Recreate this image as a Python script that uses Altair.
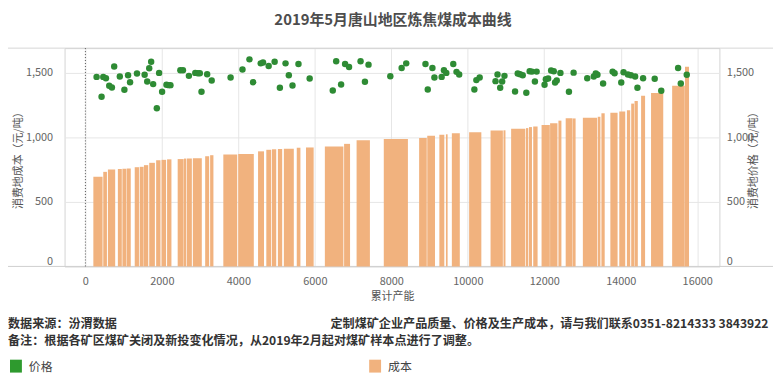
import altair as alt
import pandas as pd

# ---- data ----
cap_start = [208, 467, 589, 849, 968, 1082, 1290, 1419, 1531, 1669, 1850, 1990, 2136,
             2413, 2577, 2655, 2810, 3132, 3262, 3607, 3996, 4515, 4731, 4879, 5034,
             5190, 5527, 5769, 6262, 6765, 7092, 7803, 8727, 8940, 9256, 9428, 9583,
             10035, 10595, 10933, 11133, 11522, 11600, 11711, 11929, 12152, 12370,
             12560, 12740, 13009, 13398, 13494, 13728, 13961, 14161, 14273, 14360,
             14532, 14792, 15344, 15680]
cap_end = [449, 563, 779, 952, 1072, 1186, 1401, 1523, 1643, 1817, 1964, 2110, 2250,
           2569, 2639, 2784, 3044, 3236, 3348, 3970, 4404, 4671, 4860, 4990, 5146,
           5450, 5623, 5969, 6747, 6921, 7440, 8434, 8927, 9142, 9386, 9472, 9791,
           10354, 10917, 10985, 11504, 11582, 11678, 11825, 12145, 12344, 12448,
           12734, 12819, 13382, 13468, 13580, 13917, 14117, 14247, 14350, 14446,
           14636, 15111, 15674, 15785]
cost = [695, 733, 751, 755, 757, 759, 769, 772, 785, 803, 823, 826, 830,
        832, 836, 836, 838, 854, 862, 867, 872, 892, 904, 908, 910,
        913, 920, 922, 930, 950, 977, 987, 995, 1012, 1020, 1024, 1033,
        1040, 1054, 1055, 1067, 1072, 1080, 1085, 1097, 1110, 1130,
        1149, 1147, 1152, 1160, 1187, 1192, 1201, 1210, 1262, 1282,
        1323, 1345, 1400, 1548]

price_cap = [293, 423, 467, 537, 623, 693, 753, 900, 1020, 1116, 1168, 1349, 1549,
             1617, 1669, 1720, 1772, 1868, 1928, 2006, 2120, 2180, 2224, 2483, 2551,
             2707, 2873, 2940, 2992, 3036, 3184, 3303, 3797, 4108, 4290, 4386, 4585,
             4645, 4793, 4949, 5086, 5234, 5320, 5416, 5572, 5865, 6469, 6558, 6687,
             6791, 6895, 7196, 7310, 7404, 7974, 8270, 8390, 8893, 8953, 9075, 9127,
             9316, 9376, 9438, 9620, 9705, 9775, 10172, 10224, 10310, 10725, 10777,
             10847, 10899, 10959, 11236, 11306, 11366, 11436, 11530, 11618, 11678,
             11755, 11800, 12007, 12041, 12101, 12179, 12248, 12282, 12326, 12422,
             12645, 12767, 13123, 13294, 13346, 13390, 13538, 13787, 13839, 14013,
             14073, 14187, 14265, 14376, 14436, 14584, 14888, 15059, 15500, 15570,
             15726]
price = [1469, 1315, 1469, 1459, 1400, 1387, 1549, 1472, 1369, 1482, 1428, 1495, 1485,
         1433, 1536, 1587, 1413, 1226, 1500, 1354, 1408, 1405, 1405, 1521, 1521,
         1477, 1500, 1497, 1497, 1354, 1490, 1441, 1464, 1526, 1605, 1428, 1574,
         1580, 1554, 1587, 1385, 1574, 1482, 1403, 1569, 1456, 1364, 1590, 1410,
         1569, 1546, 1590, 1431, 1564, 1474, 1538, 1574, 1569, 1372, 1538, 1464,
         1469, 1521, 1500, 1569, 1508, 1487, 1372, 1444, 1464, 1436, 1487,
         1385, 1433, 1477, 1356, 1495, 1490, 1482, 1346, 1513, 1510,
         1433, 1510, 1408, 1451, 1456, 1518, 1513, 1425, 1441, 1500,
         1354, 1502, 1459, 1472, 1495, 1485, 1418, 1510, 1497, 1425,
         1505, 1487, 1482, 1472, 1385, 1459, 1454, 1362, 1538, 1418,
         1485]

x_ticks = [0, 2000, 4000, 6000, 8000, 10000, 12000, 14000, 16000]
y_ticks = [0, 500, 1000, 1500]

title_text = "2019年5月唐山地区炼焦煤成本曲线"
x_title = "累计产能"
y_left_title = "消费地成本（元/吨）"
y_right_title = "消费地价格（元/吨）"
source_text = "数据来源：汾渭数据"
contact_text = "定制煤矿企业产品质量、价格及生产成本，请与我们联系0351-8214333 3843922"
note_text = "备注：根据各矿区煤矿关闭及新投变化情况，从2019年2月起对煤矿样本点进行了调整。"
legend_names = ["价格", "成本"]

FONT = "Noto Sans CJK SC"
BAR_COLOR = "#F1B27E"
DOT_COLOR = "#2E8B34"
W, H = 660, 220

bars_df = pd.DataFrame({"start": cap_start, "end": cap_end, "cost": cost})
dots_df = pd.DataFrame({"cap": price_cap, "price": price})
one = pd.DataFrame({"t": [""]})

xs = alt.Scale(domain=[-545, 16580], nice=False, zero=False)
ys = alt.Scale(domain=[0, 1692], nice=False, zero=True)

x_axis = alt.Axis(values=x_ticks, format="d", title=x_title, grid=True,
                  gridColor="#e6e6e6", domain=False, ticks=False, labelPadding=9,
                  labelFontSize=11, labelColor="#666666", labelFont=FONT,
                  titleFont=FONT, titleFontSize=11, titleFontWeight="normal",
                  titleColor="#555555", titlePadding=4, labelFlush=False)

y_label_expr = "format(datum.value, ',')"

bars = alt.Chart(bars_df).mark_rect(color=BAR_COLOR).encode(
    x=alt.X("start:Q", scale=xs, axis=x_axis),
    x2="end:Q",
    y=alt.Y("cost:Q", scale=ys, axis=alt.Axis(
        orient="left", values=y_ticks, labelExpr=y_label_expr, title=y_left_title,
        grid=True, gridColor="#e6e6e6", domain=False, ticks=False, labelPadding=12,
        labelFontSize=11, labelColor="#666666", labelFont=FONT, labelFlush=True,
        titleFont=FONT, titleFontSize=11, titleFontWeight="normal",
        titleColor="#555555", titlePadding=2, titleAngle=270)),
    y2=alt.datum(0),
)

dots = alt.Chart(dots_df).mark_circle(size=42, color=DOT_COLOR, opacity=1).encode(
    x=alt.X("cap:Q", scale=xs, axis=x_axis),
    y=alt.Y("price:Q", scale=ys, axis=alt.Axis(
        orient="right", values=y_ticks, labelExpr=y_label_expr, title=y_right_title,
        grid=False, domain=False, ticks=False, labelPadding=7,
        labelFontSize=11, labelColor="#666666", labelFont=FONT, labelFlush=True,
        titleFont=FONT, titleFontSize=11, titleFontWeight="normal",
        titleColor="#555555", titlePadding=5, titleAngle=270)),
)

zero_line = alt.Chart(one).mark_rule(color="#555555", strokeDash=[1, 2], strokeWidth=1).encode(
    x=alt.datum(0))

top_line = alt.Chart(one).mark_rule(color="#d6d6d6").encode(
    x=alt.value(-57), x2=alt.value(716), y=alt.value(0))
bottom_line = alt.Chart(one).mark_rule(color="#cfcfcf").encode(
    x=alt.value(-57), x2=alt.value(716), y=alt.value(H))


def txt(text, x, y, size=12.2, weight="bold", align="left", color="#333333"):
    return alt.Chart(pd.DataFrame({"t": [text]})).mark_text(
        font=FONT, fontSize=size, fontWeight=weight, align=align,
        baseline="middle", color=color).encode(
        x=alt.value(x), y=alt.value(y), text="t:N")


def swatch(x, y, color):
    return alt.Chart(one).mark_rect(color=color).encode(
        x=alt.value(x), x2=alt.value(x + 12), y=alt.value(y), y2=alt.value(y + 13))


layers = [
    top_line, bottom_line, bars, dots, zero_line,
    txt(title_text, 331, -28, size=15, weight="bold", align="center", color="#4d4d4d"),
    txt(source_text, -57, 278),
    txt(contact_text, 268, 278),
    txt(note_text, -57, 295),
    swatch(-55, 314, "#2E9A2E"),
    txt(legend_names[0], -36, 321, size=12, weight="normal", color="#444444"),
    swatch(307, 314, BAR_COLOR),
    txt(legend_names[1], 326, 321, size=12, weight="normal", color="#444444"),
]

chart = alt.layer(*layers).resolve_axis(y="independent").properties(
    width=W, height=H,
    autosize=alt.AutoSizeParams(type="none"),
    padding={"left": 57, "top": 39, "right": 54, "bottom": 109},
).configure_view(stroke="#d4d4d4")

chart.save("out.html", embed_options={"renderer": "svg", "actions": False})
